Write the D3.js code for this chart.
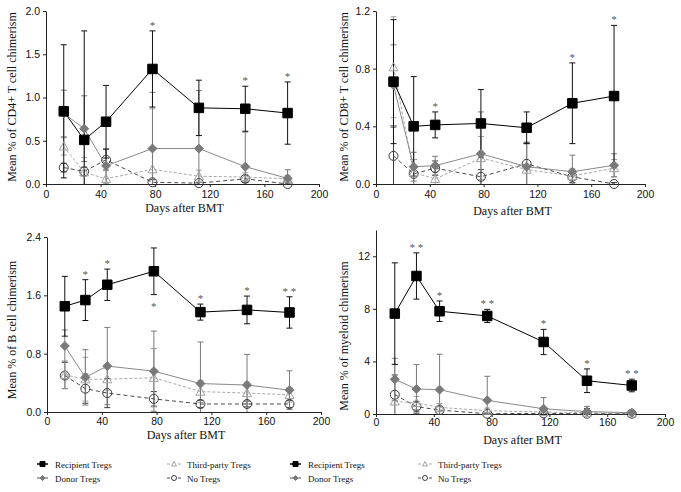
<!DOCTYPE html>
<html>
<head>
<meta charset="utf-8">
<script src="https://cdn.jsdelivr.net/npm/d3@7"></script>
<style>
  body { margin: 0; background: #fff; }
  svg { font-family: "Liberation Serif", "DejaVu Serif", serif; }
</style>
</head>
<body>
<svg id="chart" width="681" height="492"></svg>
<script>
// series order in every mean / error table below
const seriesNames = ["Recipient Tregs", "Donor Tregs", "Third-party Tregs", "No Tregs"];

// CD4+ T cells
const cd4Days = [13, 28, 44, 78, 112, 146, 177];
const cd4Means = [
  [0.84, 0.51, 0.72, 1.33, 0.88, 0.87, 0.82],
  [0.815, 0.64, 0.21, 0.41, 0.41, 0.20, 0.065],
  [0.435, 0.135, 0.06, 0.17, 0.09, 0.08, 0.06],
  [0.19, 0.145, 0.28, 0.02, 0.01, 0.06, 0.0]
];
const cd4Errs = [
  [0.77, 1.26, 0.42, 0.44, 0.32, 0.26, 0.36],
  [0.27, 0.38, 0.20, 0.65, 0.67, 0.40, 0.10],
  [0.10, 0.17, 0.10, 0.70, 0.07, 0.05, 0.04],
  [0.05, 0.05, 0.12, 0.03, 0.01, 0.04, 0.01]
];
const cd4Stars = ["", "", "", "*", "", "*", "*"];

// CD8+ T cells
const cd8Days = [13, 28, 44, 78, 112, 146, 177];
const cd8Means = [
  [0.71, 0.40, 0.41, 0.42, 0.39, 0.56, 0.61],
  [0.685, 0.12, 0.127, 0.21, 0.12, 0.085, 0.13],
  [0.81, 0.08, 0.035, 0.18, 0.10, 0.055, 0.11],
  [0.195, 0.07, 0.11, 0.05, 0.14, 0.05, 0.0]
];
const cd8Errs = [
  [0.43, 0.345, 0.09, 0.235, 0.11, 0.28, 0.49],
  [0.28, 0.10, 0.065, 0.29, 0.16, 0.115, 0.08],
  [0.35, 0.09, 0.05, 0.15, 0.18, 0.05, 0.06],
  [0.20, 0.10, 0.05, 0.05, 0.15, 0.04, 0.01]
];
const cd8Stars = ["", "", "*", "", "", "*", "*"];

// B cells
const bDays = [13, 28, 44, 78, 112, 146, 177];
const bMeans = [
  [1.45, 1.535, 1.745, 1.93, 1.37, 1.40, 1.365],
  [0.905, 0.475, 0.63, 0.56, 0.39, 0.37, 0.30],
  [0.51, 0.45, 0.45, 0.47, 0.28, 0.26, 0.235],
  [0.50, 0.32, 0.26, 0.18, 0.11, 0.11, 0.11]
];
const bErrs = [
  [0.41, 0.28, 0.215, 0.32, 0.11, 0.19, 0.215],
  [0.22, 0.38, 0.53, 0.55, 0.57, 0.42, 0.265],
  [0.19, 0.30, 0.15, 0.40, 0.15, 0.15, 0.10],
  [0.18, 0.20, 0.20, 0.10, 0.05, 0.04, 0.05]
];
const bStars = ["", "*", "*", "*", "*", "*", "**"];
const bStarsBelow = [3];

// myeloid cells
const myDays = [13, 28, 44, 77, 116, 146, 177];
const myMeans = [
  [7.64, 10.5, 7.82, 7.46, 5.48, 2.53, 2.17],
  [2.64, 1.90, 1.85, 1.04, 0.40, 0.18, 0.10],
  [0.96, 0.84, 0.50, 0.25, 0.15, 0.10, 0.05],
  [1.47, 0.56, 0.30, 0.02, 0.05, 0.02, 0.02]
];
const myErrs = [
  [3.86, 1.76, 0.78, 0.50, 0.96, 0.90, 0.48],
  [1.60, 1.86, 2.70, 1.83, 0.85, 0.40, 0.10],
  [2.80, 0.50, 0.30, 0.20, 0.15, 0.10, 0.05],
  [1.50, 0.40, 0.30, 0.05, 0.10, 0.40, 0.05]
];
const myStars = ["", "**", "*", "**", "*", "*", "**"];

const xTicks = [0, 40, 80, 120, 160, 200];

const styles = [
  {line: "#000", dash: null, mark: "square", fill: "#000", stroke: "#000", size: 9.5},
  {line: "#8a8a8a", dash: null, mark: "diamond", fill: "#7a7a7a", stroke: "#7a7a7a", size: 9},
  {line: "#a8a8a8", dash: "3,2", mark: "triangle", fill: "none", stroke: "#a0a0a0", size: 9},
  {line: "#4a4a4a", dash: "4,3", mark: "circle", fill: "none", stroke: "#3a3a3a", size: 9}
];

const svg = d3.select("#chart");

function symbolPath(kind, s) {
  const h = s / 2;
  if (kind === "square") return `M${-h},${-h}H${h}V${h}H${-h}Z`;
  if (kind === "diamond") return `M0,${-h}L${h},0L0,${h}L${-h},0Z`;
  if (kind === "triangle") return `M0,${-h}L${h},${h * 0.8}L${-h},${h * 0.8}Z`;
  return d3.arc()({innerRadius: 0, outerRadius: h, startAngle: 0, endAngle: 2 * Math.PI});
}

function drawMark(g, st, x, y, s) {
  g.append("path")
    .attr("transform", `translate(${x},${y})`)
    .attr("d", symbolPath(st.mark, s))
    .attr("fill", st.fill)
    .attr("stroke", st.stroke)
    .attr("stroke-width", 1);
}

function drawPanel(p) {
  const x = d3.scaleLinear().domain([0, 200]).range([p.left, p.right]);
  const y = d3.scaleLinear().domain([0, p.yMax]).range([p.bottom, p.top]);
  const g = svg.append("g");

  g.append("g")
    .attr("transform", `translate(0,${p.bottom})`)
    .call(d3.axisBottom(x).tickValues(xTicks).tickSize(3).tickPadding(p.xPad).tickSizeOuter(0))
    .call(a => a.selectAll("text").attr("font-size", 10.5).attr("fill", "#111"))
    .call(a => a.selectAll("path,line").attr("stroke", "#222"));

  g.append("g")
    .attr("transform", `translate(${p.left},0)`)
    .call(d3.axisLeft(y).tickValues(p.yTicks).tickFormat(d3.format(p.fmt)).tickSize(3).tickPadding(3).tickSizeOuter(0))
    .call(a => a.selectAll("text").attr("font-size", 10.5).attr("fill", "#111"))
    .call(a => a.selectAll("path,line").attr("stroke", "#222"));

  g.append("text")
    .attr("x", (p.left + p.right) / 2 + 2)
    .attr("y", p.xTitleY)
    .attr("text-anchor", "middle")
    .attr("font-size", 12)
    .attr("fill", "#111")
    .text("Days after BMT");

  g.append("text")
    .attr("transform", `translate(${p.yTitleX},${p.yTitleY}) rotate(-90)`)
    .attr("text-anchor", "middle")
    .attr("font-size", 12)
    .attr("fill", "#111")
    .text(p.yTitle);

  const line = d3.line().x(d => x(d[0])).y(d => y(d[1]));

  // error bars
  [3, 2, 1, 0].forEach(si => {
    const st = styles[si];
    p.means[si].forEach((m, i) => {
      const cx = x(p.days[i]);
      const lo = y(Math.max(0, m - p.errs[si][i]));
      const hi = y(Math.min(p.yMax, m + p.errs[si][i]));
      const c = si === 0 ? "#111" : st.stroke;
      g.append("line").attr("x1", cx).attr("x2", cx).attr("y1", lo).attr("y2", hi)
        .attr("stroke", c).attr("stroke-width", 1);
      [lo, hi].forEach(v => {
        if (v === p.bottom) return;
        g.append("line").attr("x1", cx - 3).attr("x2", cx + 3).attr("y1", v).attr("y2", v)
          .attr("stroke", c).attr("stroke-width", 1);
      });
    });
  });

  // lines and markers, recipient on top
  [3, 2, 1, 0].forEach(si => {
    const st = styles[si];
    const pts = p.days.map((d, i) => [d, p.means[si][i]]);
    g.append("path")
      .attr("d", line(pts))
      .attr("fill", "none")
      .attr("stroke", st.line)
      .attr("stroke-width", 1)
      .attr("stroke-dasharray", st.dash);
    pts.forEach(d => drawMark(g, st, x(d[0]), y(d[1]), st.size));
  });

  // significance stars
  p.stars.forEach((s, i) => {
    if (!s) return;
    const m = p.means[0][i], e = p.errs[0][i];
    const below = (p.below || []).includes(i);
    const yy = below ? y(m - e) + 15 : y(Math.min(p.yMax, m + e)) - 2;
    g.append("text")
      .attr("x", x(p.days[i]))
      .attr("y", yy)
      .attr("text-anchor", "middle")
      .attr("font-size", 11)
      .attr("fill", "#555")
      .text(s.split("").join(" "));
  });
}

drawPanel({left: 46, right: 319, top: 11, bottom: 184, yMax: 2.0,
  yTicks: [0, 0.5, 1, 1.5, 2], fmt: ".1f", xPad: 4, xTitleY: 212,
  yTitle: "Mean % of CD4+ T cell chimerism", yTitleX: 16, yTitleY: 97,
  days: cd4Days, means: cd4Means, errs: cd4Errs, stars: cd4Stars});

drawPanel({left: 376, right: 645, top: 11, bottom: 184, yMax: 1.2,
  yTicks: [0, 0.4, 0.8, 1.2], fmt: ".1f", xPad: 4, xTitleY: 215,
  yTitle: "Mean % of CD8+ T cell chimerism", yTitleX: 348, yTitleY: 97,
  days: cd8Days, means: cd8Means, errs: cd8Errs, stars: cd8Stars});

drawPanel({left: 47, right: 321, top: 237, bottom: 412, yMax: 2.4,
  yTicks: [0, 0.8, 1.6, 2.4], fmt: ".1f", xPad: 3, xTitleY: 439,
  yTitle: "Mean % of B cell chimerism", yTitleX: 16, yTitleY: 330,
  days: bDays, means: bMeans, errs: bErrs, stars: bStars, below: bStarsBelow});

drawPanel({left: 376, right: 665, top: 230, bottom: 414, yMax: 14,
  yTicks: [0, 4, 8, 12], fmt: "d", xPad: 2, xTitleY: 444,
  yTitle: "Mean % of myeloid chimerism", yTitleX: 348, yTitleY: 336,
  days: myDays, means: myMeans, errs: myErrs, stars: myStars});

// legends
function drawLegend(x0, x1) {
  const g = svg.append("g");
  const spots = [[x0, 464], [x0, 478], [x1, 464], [x1, 478]];
  seriesNames.forEach((name, i) => {
    const st = styles[i];
    const [lx, ly] = spots[i];
    if (st.dash) {
      g.append("line").attr("x1", lx).attr("x2", lx + 3).attr("y1", ly).attr("y2", ly)
        .attr("stroke", st.line);
      g.append("line").attr("x1", lx + 11).attr("x2", lx + 14).attr("y1", ly).attr("y2", ly)
        .attr("stroke", st.line);
    } else {
      g.append("line").attr("x1", lx).attr("x2", lx + 11).attr("y1", ly).attr("y2", ly)
        .attr("stroke", st.line).attr("stroke-width", 1.5);
    }
    drawMark(g, st, st.dash ? lx + 7 : lx + 5.5, ly, 5);
    g.append("text")
      .attr("x", lx + (st.dash ? 20 : 18))
      .attr("y", ly + 3.5)
      .attr("font-size", 9)
      .attr("fill", "#111")
      .text(name);
  });
}

drawLegend(37, 167);
drawLegend(290, 418);
</script>
</body>
</html>
